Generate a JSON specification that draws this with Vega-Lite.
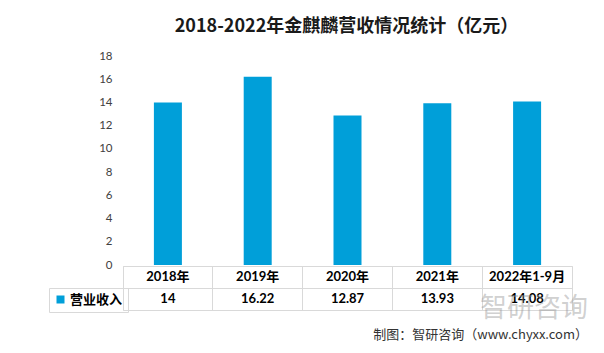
{
  "$schema": "https://vega.github.io/schema/vega-lite/v6.json",
  "padding": {"left": 48, "top": 18, "right": 10, "bottom": 5},
  "background": "white",
  "title": {
    "text": "2018-2022年金麒麟营收情况统计（亿元）",
    "font": "Noto Sans CJK SC",
    "fontSize": 18,
    "fontWeight": "bold",
    "color": "#1a1a1a",
    "anchor": "middle",
    "dx": 28,
    "offset": 14
  },
  "data": {
    "values": [
      {"year": "2018年", "value": 14},
      {"year": "2019年", "value": 16.22},
      {"year": "2020年", "value": 12.87},
      {"year": "2021年", "value": 13.93},
      {"year": "2022年1-9月", "value": 14.08}
    ]
  },
  "bounds": "flush",
  "spacing": 1,
  "resolve": {"scale": {"color": "independent"}, "legend": {"color": "independent"}},
  "vconcat": [
    {
      "width": 449,
      "height": 209,
      "view": {"stroke": null},
      "mark": {"type": "bar", "width": 28, "color": "#009fd9"},
      "encoding": {
        "x": {
          "field": "year",
          "type": "nominal",
          "sort": null,
          "scale": {"type": "band", "paddingInner": 0, "paddingOuter": 0},
          "axis": null
        },
        "y": {
          "field": "value",
          "type": "quantitative",
          "scale": {"domain": [0, 18], "nice": false},
          "axis": {
            "values": [0, 2, 4, 6, 8, 10, 12, 14, 16, 18],
            "grid": false,
            "domain": false,
            "ticks": false,
            "title": null,
            "labelPadding": 11,
            "labelFont": "Lato",
            "labelFontSize": 11.5,
            "labelColor": "#404040"
          }
        },
        "color": {
          "datum": "营业收入",
          "scale": {"range": ["#009fd9"]},
          "legend": {
            "orient": "none",
            "legendX": -74,
            "legendY": 232,
            "title": null,
            "strokeColor": "#d9d9d9",
            "padding": 5,
            "symbolType": "square",
            "symbolSize": 64,
            "symbolStrokeWidth": 0,
            "symbolOffset": 0,
            "labelOffset": 3,
            "labelFont": "Noto Sans CJK SC",
            "labelFontSize": 13,
            "labelFontWeight": "bold",
            "labelColor": "#000000"
          }
        }
      }
    },
    {
      "width": 449,
      "height": 44,
      "view": {"stroke": "#d9d9d9"},
      "title": {
        "text": "智研咨询",
        "subtitle": "制图：智研咨询（www.chyxx.com）",
        "orient": "bottom",
        "anchor": "end",
        "frame": "group",
        "offset": -14,
        "dx": 16,
        "font": "Noto Sans CJK SC",
        "fontSize": 27,
        "fontWeight": "normal",
        "color": "rgba(150,150,150,0.45)",
        "subtitleFont": "Noto Sans CJK SC",
        "subtitleFontSize": 13,
        "subtitleColor": "#333333",
        "subtitlePadding": 6
      },
      "encoding": {
        "x": {
          "field": "year",
          "type": "nominal",
          "sort": null,
          "scale": {"type": "band", "paddingInner": 0, "paddingOuter": 0},
          "axis": {
            "labels": false,
            "ticks": false,
            "domain": false,
            "title": null,
            "grid": true,
            "bandPosition": 0,
            "gridColor": "#d9d9d9"
          }
        }
      },
      "layer": [
        {
          "mark": {"type": "text", "font": "Lato, Noto Sans CJK SC", "fontSize": 13, "fontWeight": "bold", "color": "#000000"},
          "encoding": {
            "y": {
              "datum": "header",
              "type": "nominal",
              "scale": {"type": "band", "domain": ["header", "data"], "paddingInner": 0, "paddingOuter": 0},
              "axis": {
                "labels": false,
                "ticks": false,
                "domain": false,
                "title": null,
                "grid": true,
                "bandPosition": 0,
                "gridColor": "#d9d9d9"
              }
            },
            "text": {"field": "year"}
          }
        },
        {
          "mark": {"type": "text", "font": "Lato, Noto Sans CJK SC", "fontSize": 13, "fontWeight": "bold", "color": "#000000"},
          "encoding": {
            "y": {"datum": "data", "type": "nominal"},
            "text": {"field": "value", "type": "quantitative", "format": ".4~g"}
          }
        }
      ]
    }
  ]
}
